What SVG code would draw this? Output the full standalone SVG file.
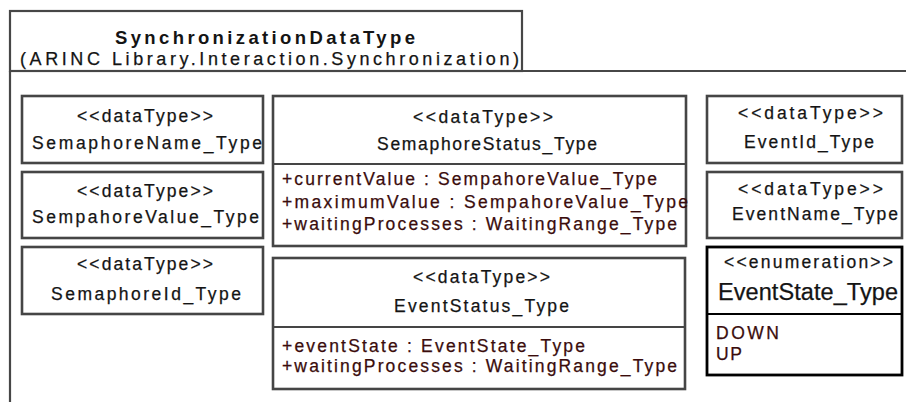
<svg xmlns="http://www.w3.org/2000/svg" width="906" height="402" viewBox="0 0 906 402">
<style>
.pkg{fill:none;stroke:#474747;stroke-width:2.2}
.box{fill:#fff;stroke:#454545;stroke-width:2.6}
.enum{fill:#fff;stroke:#000;stroke-width:2.8}
.div{stroke:#454545;stroke-width:2}
.t{font-family:"Liberation Sans",Arial,sans-serif;font-size:17.5px;fill:#141414;stroke:#141414;stroke-width:0.25}
.a{font-family:"Liberation Sans",Arial,sans-serif;font-size:17.5px;fill:#3a0c0c;stroke:#3a0c0c;stroke-width:0.25}
.b{font-family:"Liberation Sans",Arial,sans-serif;font-size:18.5px;font-weight:bold;fill:#141414}
.s{font-family:"Liberation Sans",Arial,sans-serif;font-size:18px;fill:#141414;stroke:#141414;stroke-width:0.25}
.big{font-family:"Liberation Sans",Arial,sans-serif;font-size:23.5px;fill:#141414;stroke:#141414;stroke-width:0.25}
</style>
<rect width="906" height="402" fill="#fff"/>
<g id="package">
<rect class="pkg" x="10" y="11" width="512" height="60"/>
<line class="pkg" x1="10" y1="71" x2="906" y2="71"/>
<line class="pkg" x1="10" y1="71" x2="10" y2="402"/>
<text class="b" x="115" y="44" textLength="300" lengthAdjust="spacing">SynchronizationDataType</text>
<text class="s" x="20" y="65" textLength="499" lengthAdjust="spacing">(ARINC Library.Interaction.Synchronization)</text>
</g>
<g id="SemaphoreName_Type">
<rect class="box" x="22" y="96" width="241" height="67"/>
<text class="t" x="77" y="122" textLength="136" lengthAdjust="spacing">&lt;&lt;dataType&gt;&gt;</text>
<text class="t" x="32" y="149" textLength="230" lengthAdjust="spacing">SemaphoreName_Type</text>
</g>
<g id="SempahoreValue_Type">
<rect class="box" x="22" y="172" width="241" height="66"/>
<text class="t" x="77" y="197" textLength="136" lengthAdjust="spacing">&lt;&lt;dataType&gt;&gt;</text>
<text class="t" x="32" y="223" textLength="227" lengthAdjust="spacing">SempahoreValue_Type</text>
</g>
<g id="SemaphoreId_Type">
<rect class="box" x="22" y="247" width="241" height="67"/>
<text class="t" x="77" y="270" textLength="136" lengthAdjust="spacing">&lt;&lt;dataType&gt;&gt;</text>
<text class="t" x="51" y="300" textLength="190" lengthAdjust="spacing">SemaphoreId_Type</text>
</g>
<g id="SemaphoreStatus_Type">
<rect class="box" x="273" y="96" width="413" height="150"/>
<line class="div" x1="273" y1="164" x2="686" y2="164"/>
<text class="t" x="413" y="123" textLength="140" lengthAdjust="spacing">&lt;&lt;dataType&gt;&gt;</text>
<text class="t" x="377" y="150" textLength="220" lengthAdjust="spacing">SemaphoreStatus_Type</text>
<text class="a" x="282" y="185" textLength="375" lengthAdjust="spacing">+currentValue : SempahoreValue_Type</text>
<text class="a" x="282" y="208" textLength="406" lengthAdjust="spacing">+maximumValue : SempahoreValue_Type</text>
<text class="a" x="282" y="230" textLength="395" lengthAdjust="spacing">+waitingProcesses : WaitingRange_Type</text>
</g>
<g id="EventStatus_Type">
<rect class="box" x="273" y="258" width="412" height="131"/>
<line class="div" x1="273" y1="327" x2="685" y2="327"/>
<text class="t" x="413" y="283" textLength="137" lengthAdjust="spacing">&lt;&lt;dataType&gt;&gt;</text>
<text class="t" x="394" y="312" textLength="175" lengthAdjust="spacing">EventStatus_Type</text>
<text class="a" x="282" y="352" textLength="303" lengthAdjust="spacing">+eventState : EventState_Type</text>
<text class="a" x="282" y="372" textLength="395" lengthAdjust="spacing">+waitingProcesses : WaitingRange_Type</text>
</g>
<g id="EventId_Type">
<rect class="box" x="707" y="96" width="195" height="67"/>
<text class="t" x="738" y="119" textLength="145" lengthAdjust="spacing">&lt;&lt;dataType&gt;&gt;</text>
<text class="t" x="744" y="148" textLength="130" lengthAdjust="spacing">EventId_Type</text>
</g>
<g id="EventName_Type">
<rect class="box" x="707" y="172" width="195" height="66"/>
<text class="t" x="738" y="195" textLength="145" lengthAdjust="spacing">&lt;&lt;dataType&gt;&gt;</text>
<text class="t" x="732" y="220" textLength="166" lengthAdjust="spacing">EventName_Type</text>
</g>
<g id="EventState_Type">
<rect class="enum" x="707" y="247" width="195" height="128"/>
<line x1="707" y1="314" x2="902" y2="314" stroke="#000" stroke-width="2.2"/>
<text class="t" x="724" y="268" textLength="169" lengthAdjust="spacing">&lt;&lt;enumeration&gt;&gt;</text>
<text class="big" x="718" y="300" textLength="180" lengthAdjust="spacing">EventState_Type</text>
<text class="a" x="716" y="339" textLength="63" lengthAdjust="spacing">DOWN</text>
<text class="a" x="716" y="360" textLength="26" lengthAdjust="spacing">UP</text>
</g>
<g id="connectors"></g>
</svg>
